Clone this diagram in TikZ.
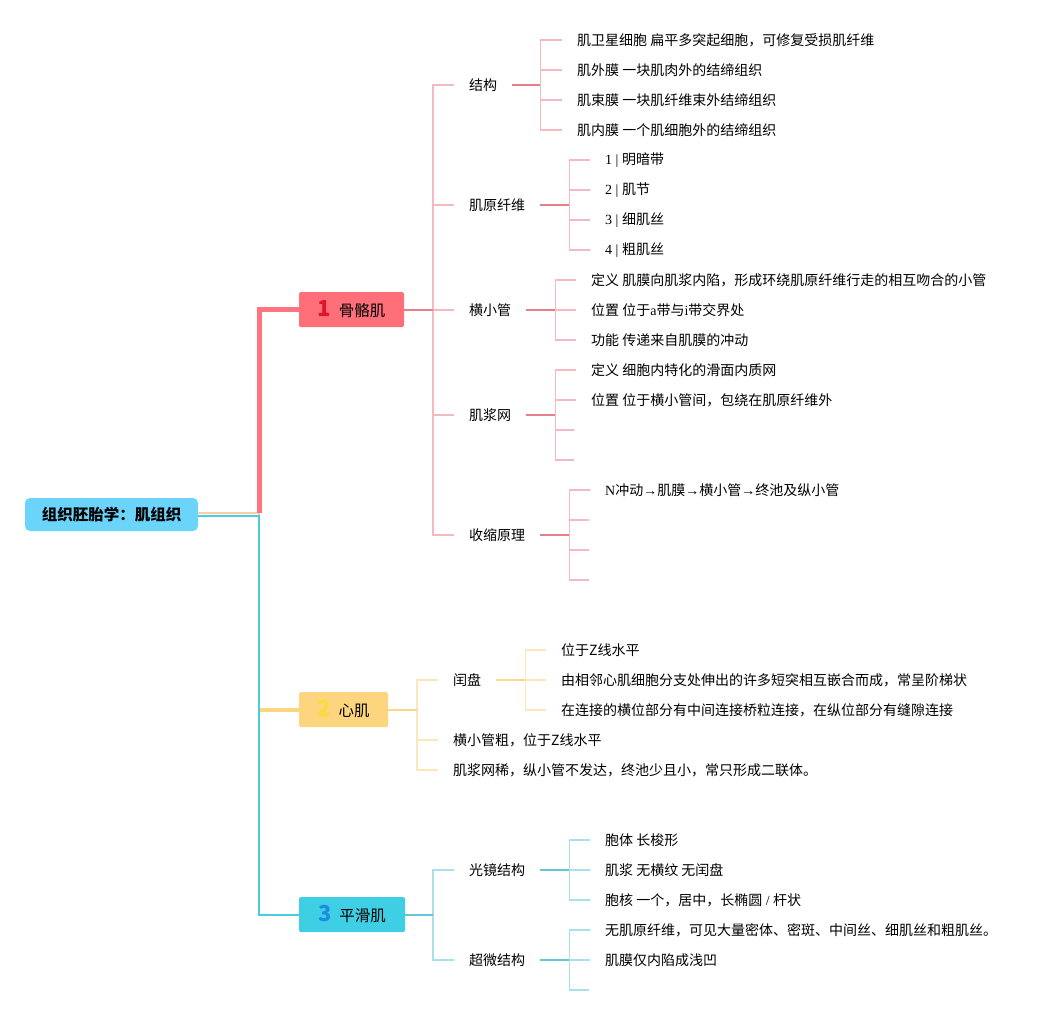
\documentclass[tikz,border=0pt]{standalone}
\usepackage{fontspec}
\setmainfont{Noto Sans CJK SC}
\newfontfamily\sr{Liberation Serif}
\definecolor{rootc}{HTML}{6AD4FB}
\definecolor{redm}{HTML}{FF7480}
\definecolor{box1c}{HTML}{FF6F7A}
\definecolor{num1}{HTML}{E2142D}
\definecolor{pkd}{HTML}{E8808C}
\definecolor{pkl}{HTML}{F5B9C4}
\definecolor{yelm}{HTML}{FCD67E}
\definecolor{yelt}{HTML}{F8CFA0}
\definecolor{box2c}{HTML}{FDD57E}
\definecolor{num2}{HTML}{F8DC3C}
\definecolor{yld}{HTML}{F9D88E}
\definecolor{yll}{HTML}{FDE6BA}
\definecolor{cym}{HTML}{4BCBE0}
\definecolor{box3c}{HTML}{3FCFE5}
\definecolor{num3}{HTML}{1B8EE0}
\definecolor{cyd}{HTML}{63C7D8}
\definecolor{cyl}{HTML}{A8E0EB}
\begin{document}
\begin{tikzpicture}[x=1pt,y=-1pt,
  leaf/.style={anchor=west,inner xsep=15pt,inner ysep=0pt,font=\fontsize{14}{16}\selectfont},
  rootbox/.style={fill=rootc,rounded corners=5pt,minimum width=173pt,minimum height=33pt,inner sep=0pt,font=\bfseries\fontsize{15.5}{18}\selectfont},
  brbox/.style={rounded corners=1.5pt,minimum height=35pt,inner sep=0pt,font=\fontsize{15.5}{18}\selectfont},
  lpk/.style={draw=pkl,line width=1.5pt},
  dpk/.style={draw=pkd,line width=2pt},
  lyl/.style={draw=yll,line width=1.5pt},
  dyl/.style={draw=yld,line width=2pt},
  lcy/.style={draw=cyl,line width=1.5pt},
  dcy/.style={draw=cyd,line width=2pt}]
\useasboundingbox (0,0) rectangle (1057,1015);
\newcommand\bignum[2]{{\color{#1}\bfseries\fontsize{22}{22}\selectfont #2}\hspace{8pt}}

% root and branch boxes
\node[rootbox] (root) at (111.5,514.5) {组织胚胎学：肌组织};
\node[brbox,fill=box1c,minimum width=105pt] (b1) at (351.5,309.5) {\bignum{num1}{1}骨骼肌};
\node[brbox,fill=box2c,minimum width=89pt] (b2) at (343.5,709.5) {\bignum{num2}{2}心肌};
\node[brbox,fill=box3c,minimum width=106pt] (b3) at (352,914.5) {\bignum{num3}{3}平滑肌};

% main branches
\coordinate (rj) at ([xshift=61pt]root.east);
\draw[yelt,line width=2pt] ([yshift=1.5pt]root.east) -- ([yshift=1.5pt]rj) |- ([yshift=1pt]b2.west);
\draw[yelm,line width=4pt] ([xshift=-1pt]rj |- b2.west) -- (b2.west);
\draw[cym,line width=2pt] ([yshift=-1.5pt]root.east) -- ([yshift=-1.5pt]rj) |- (b3.west);
\draw[redm,line width=5pt] ([yshift=1.5pt]rj) |- (b1.west);

% ---------- skeletal muscle ----------
\node[leaf] (s1) at (454,85) {结构};
\node[leaf] (s2) at (454,205) {肌原纤维};
\node[leaf] (s3) at (454,310) {横小管};
\node[leaf] (s4) at (454,415) {肌浆网};
\node[leaf] (s5) at (454,535) {收缩原理};
\coordinate (b1j) at ([xshift=29pt]b1.east);
\foreach \n in {s1,s2,s3,s4,s5} \draw[lpk] (b1j) |- (\n.west);
\draw[dpk] (b1.east) -- (b1j);

\node[leaf] (s1a) at (562,40) {肌卫星细胞 扁平多突起细胞，可修复受损肌纤维};
\node[leaf] (s1b) at (562,70) {肌外膜 一块肌肉外的结缔组织};
\node[leaf] (s1c) at (562,100) {肌束膜 一块肌纤维束外结缔组织};
\node[leaf] (s1d) at (562,130) {肌内膜 一个肌细胞外的结缔组织};
\coordinate (s1j) at ([xshift=28pt]s1.east);
\foreach \n in {s1a,s1b,s1c,s1d} \draw[lpk] (s1j) |- (\n.west);
\draw[dpk] (s1.east) -- (s1j);

\node[leaf] (s2a) at (590,160) {{\sr 1 | }明暗带};
\node[leaf] (s2b) at (590,190) {{\sr 2 | }肌节};
\node[leaf] (s2c) at (590,220) {{\sr 3 | }细肌丝};
\node[leaf] (s2d) at (590,250) {{\sr 4 | }粗肌丝};
\coordinate (s2j) at ([xshift=29pt]s2.east);
\foreach \n in {s2a,s2b,s2c,s2d} \draw[lpk] (s2j) |- (\n.west);
\draw[dpk] (s2.east) -- (s2j);

\node[leaf] (s3a) at (576,280) {定义 肌膜向肌浆内陷，形成环绕肌原纤维行走的相互吻合的小管};
\node[leaf] (s3b) at (576,310) {位置 位于{\sr a}带与{\sr i}带交界处};
\node[leaf] (s3c) at (576,340) {功能 传递来自肌膜的冲动};
\coordinate (s3j) at ([xshift=29pt]s3.east);
\foreach \n in {s3a,s3b,s3c} \draw[lpk] (s3j) |- (\n.west);
\draw[dpk] (s3.east) -- (s3j);

\node[leaf] (s4a) at (576,370) {定义 细胞内特化的滑面内质网};
\node[leaf] (s4b) at (576,400) {位置 位于横小管间，包绕在肌原纤维外};
\coordinate (s4c) at (574,430);
\coordinate (s4d) at (574,460);
\coordinate (s4j) at ([xshift=29pt]s4.east);
\foreach \n in {s4a,s4b} \draw[lpk] (s4j) |- (\n.west);
\foreach \n in {s4c,s4d} \draw[lpk] (s4j) |- (\n);
\draw[dpk] (s4.east) -- (s4j);

\node[leaf] (s5a) at (590,490) {{\sr N}冲动{\sr →}肌膜{\sr →}横小管{\sr →}终池及纵小管};
\coordinate (s5b) at (589,520);
\coordinate (s5c) at (589,550);
\coordinate (s5d) at (589,580);
\coordinate (s5j) at ([xshift=29pt]s5.east);
\draw[lpk] (s5j) |- (s5a.west);
\foreach \n in {s5b,s5c,s5d} \draw[lpk] (s5j) |- (\n);
\draw[dpk] (s5.east) -- (s5j);

% ---------- cardiac muscle ----------
\node[leaf] (c1) at (438,680) {闰盘};
\node[leaf] (c2) at (438,740) {横小管粗，位于Z线水平};
\node[leaf] (c3) at (438,770) {肌浆网稀，纵小管不发达，终池少且小，常只形成二联体。};
\coordinate (b2j) at ([xshift=29pt]b2.east);
\foreach \n in {c1,c2,c3} \draw[lyl] (b2j) |- (\n.west);
\draw[dyl] (b2.east) -- (b2j);

\node[leaf] (c1a) at (546,650) {位于Z线水平};
\node[leaf] (c1b) at (546,680) {由相邻心肌细胞分支处伸出的许多短突相互嵌合而成，常呈阶梯状};
\node[leaf] (c1c) at (546,710) {在连接的横位部分有中间连接桥粒连接，在纵位部分有缝隙连接};
\coordinate (c1j) at ([xshift=29pt]c1.east);
\foreach \n in {c1a,c1b,c1c} \draw[lyl] (c1j) |- (\n.west);
\draw[dyl] (c1.east) -- (c1j);

% ---------- smooth muscle ----------
\node[leaf] (m1) at (454,870) {光镜结构};
\node[leaf] (m2) at (454,960) {超微结构};
\coordinate (b3j) at ([xshift=28pt]b3.east);
\foreach \n in {m1,m2} \draw[lcy] (b3j) |- (\n.west);
\draw[dcy] (b3.east) -- (b3j);

\node[leaf] (m1a) at (590,840) {胞体 长梭形};
\node[leaf] (m1b) at (590,870) {肌浆 无横纹 无闰盘};
\node[leaf] (m1c) at (590,900) {胞核 一个，居中，长椭圆{\sr\ /\ }杆状};
\coordinate (m1j) at ([xshift=29pt]m1.east);
\foreach \n in {m1a,m1b,m1c} \draw[lcy] (m1j) |- (\n.west);
\draw[dcy] (m1.east) -- (m1j);

\node[leaf] (m2a) at (590,930) {无肌原纤维，可见大量密体、密斑、中间丝、细肌丝和粗肌丝。};
\node[leaf] (m2b) at (590,960) {肌膜仅内陷成浅凹};
\coordinate (m2c) at (589,990);
\coordinate (m2j) at ([xshift=29pt]m2.east);
\foreach \n in {m2a,m2b} \draw[lcy] (m2j) |- (\n.west);
\draw[lcy] (m2j) |- (m2c);
\draw[dcy] (m2.east) -- (m2j);
\end{tikzpicture}
\end{document}
